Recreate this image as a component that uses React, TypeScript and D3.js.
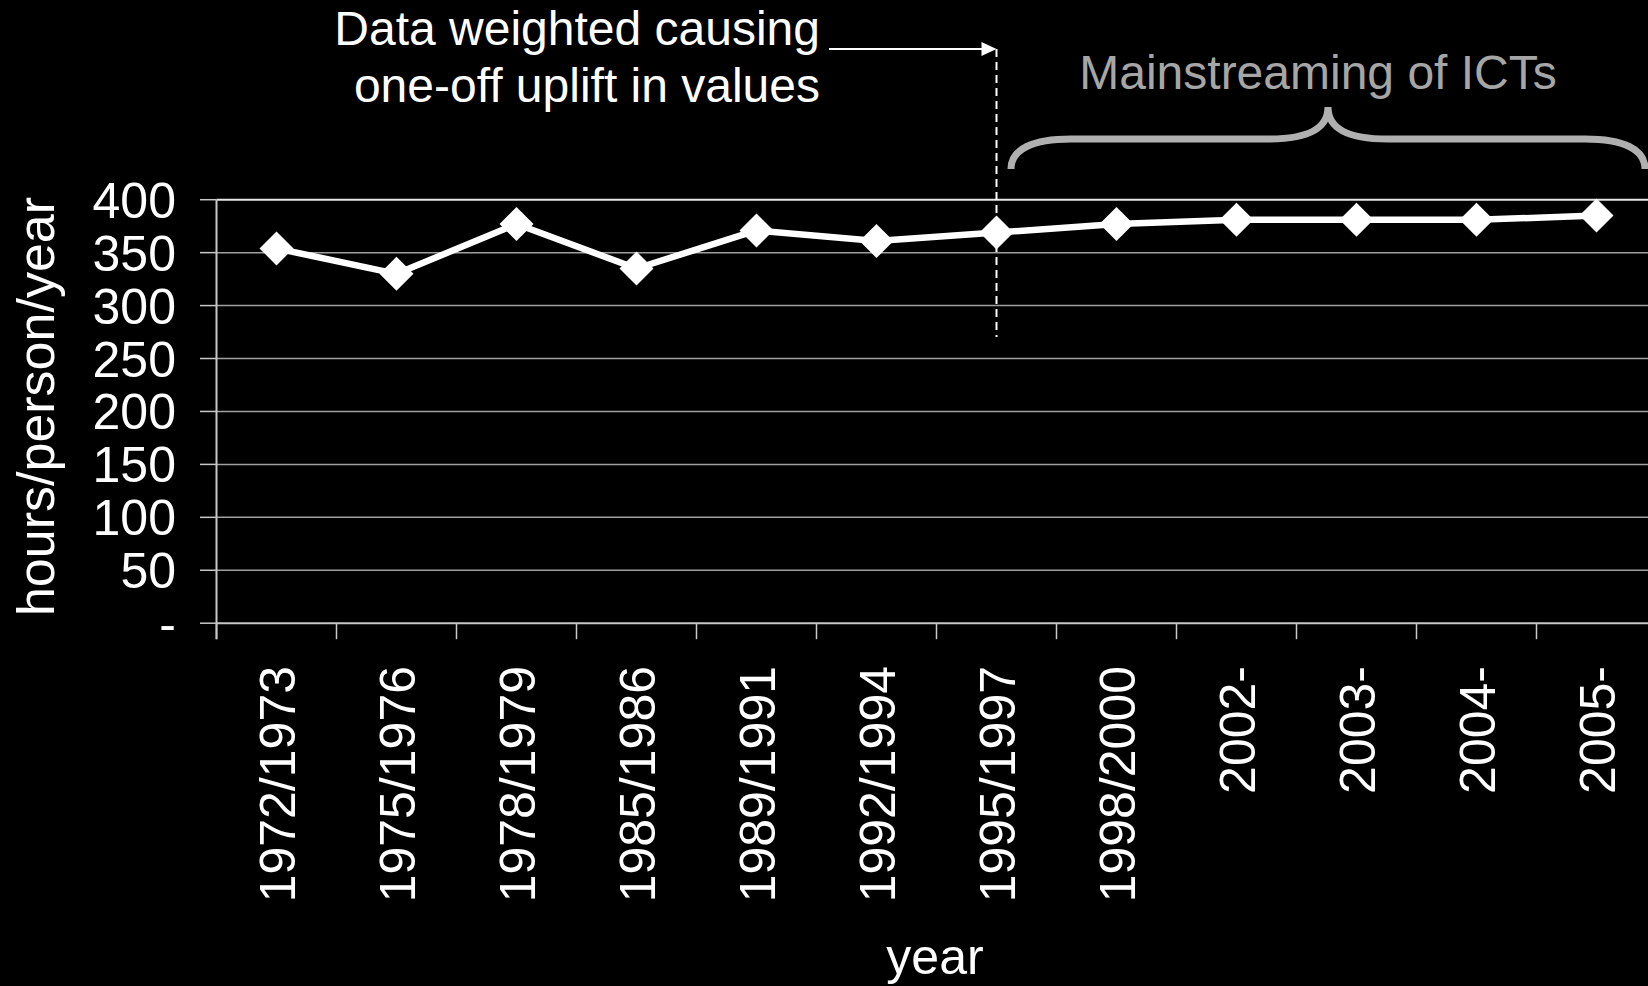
import React from "react";
import * as d3 from "d3";

const categories = [
  "1972/1973", "1975/1976", "1978/1979", "1985/1986", "1989/1991", "1992/1994",
  "1995/1997", "1998/2000", "2002-", "2003-", "2004-", "2005-",
];
const hours = [354, 330, 377, 335, 371, 361, 369, 377, 381, 381, 381, 385];
const yTicks = [0, 50, 100, 150, 200, 250, 300, 350, 400];
const yTickLabels = ["-", "50", "100", "150", "200", "250", "300", "350", "400"];
const yTitle = "hours/person/year";
const xTitle = "year";
const noteLines = ["Data weighted causing", "one-off uplift in values"];
const noteCategory = "1995/1997";
const braceLabel = "Mainstreaming of ICTs";

const W = 1648;
const H = 986;
const FONT = "'Liberation Sans', Arial, Helvetica, sans-serif";

export default function App() {
  const x = d3.scaleBand<string>().domain(categories).range([216.5, 1656.5]);
  const y = d3.scaleLinear().domain([0, 400]).range([623.2, 199.7]);
  const cx = (c: string) => (x(c) as number) + x.bandwidth() / 2;

  const pts = categories.map((c, i) => [cx(c), y(hours[i])] as [number, number]);
  const linePath = d3.line()(pts) || "";

  const boundaries = d3.range(categories.length + 1).map((k) => x.range()[0] + k * x.step());
  const x0 = x.range()[0];
  const x1 = W + 20;
  const axisY = y(0);

  const noteX = cx(noteCategory);

  // curly brace
  const bL = 1011, bR = 1645, bMid = (bL + bR) / 2, bBot = 169, bH = 139, bTop = 107;
  const brace = `M ${bL} ${bBot} C ${bL} ${bH + 10} ${bL + 22} ${bH} ${bL + 60} ${bH}
    L ${bMid - 60} ${bH} C ${bMid - 20} ${bH} ${bMid} ${bH - 10} ${bMid} ${bTop}
    C ${bMid} ${bH - 10} ${bMid + 20} ${bH} ${bMid + 60} ${bH}
    L ${bR - 60} ${bH} C ${bR - 22} ${bH} ${bR} ${bH + 10} ${bR} ${bBot}`;

  return (
    <svg
      width={W}
      height={H}
      style={{ position: "fixed", left: 0, top: 0, background: "#000" }}
      fontFamily={FONT}
    >
      <rect x={0} y={0} width={W} height={H} fill="#000" />

      {/* gridlines */}
      {yTicks.slice(1).map((t) => (
        <line
          key={"g" + t}
          x1={x0}
          x2={x1}
          y1={y(t)}
          y2={y(t)}
          stroke={t === 400 ? "#e6e6e6" : "#a0a0a0"}
          strokeWidth={t === 400 ? 2 : 1.5}
        />
      ))}

      {/* y axis */}
      <line x1={x0} x2={x0} y1={y(400)} y2={axisY + 16} stroke="#c8c8c8" strokeWidth={2} />
      {yTicks.map((t) => (
        <line key={"yt" + t} x1={x0 - 16.5} x2={x0} y1={y(t)} y2={y(t)} stroke="#c8c8c8" strokeWidth={1.5} />
      ))}
      {yTicks.map((t, i) => (
        <text
          key={"yl" + t}
          x={176}
          y={y(t)}
          dy="0.36em"
          textAnchor="end"
          fontSize={50}
          fill="#fff"
        >
          {yTickLabels[i]}
        </text>
      ))}
      <text
        transform={`translate(54,406.5) rotate(-90)`}
        textAnchor="middle"
        fontSize={52}
        fill="#fff"
      >
        {yTitle}
      </text>

      {/* x axis */}
      <line x1={x0} x2={x1} y1={axisY} y2={axisY} stroke="#c8c8c8" strokeWidth={2} />
      {boundaries.map((b, i) => (
        <line key={"xt" + i} x1={b} x2={b} y1={axisY} y2={axisY + 16} stroke="#c8c8c8" strokeWidth={1.5} />
      ))}
      {categories.map((c) => (
        <text
          key={"xl" + c}
          transform={`translate(${cx(c)},666) rotate(-90)`}
          dy="0.36em"
          textAnchor="end"
          fontSize={50}
          fill="#fff"
        >
          {c}
        </text>
      ))}
      <text x={935} y={974} textAnchor="middle" fontSize={50} fill="#fff">
        {xTitle}
      </text>

      {/* annotation: dashed line and arrow */}
      <line
        x1={noteX}
        x2={noteX}
        y1={49}
        y2={337}
        stroke="#fff"
        strokeWidth={2}
        strokeDasharray="8,5"
      />
      <line x1={829} x2={noteX - 14} y1={49} y2={49} stroke="#fff" strokeWidth={2} />
      <path d={`M ${noteX - 15} ${42} L ${noteX} ${49} L ${noteX - 15} ${56} Z`} fill="#fff" />
      {noteLines.map((t, i) => (
        <text key={"n" + i} x={820} y={45 + i * 57} textAnchor="end" fontSize={48} fill="#fff">
          {t}
        </text>
      ))}

      {/* brace */}
      <path d={brace} fill="none" stroke="#b0b0b0" strokeWidth={7} strokeLinecap="butt" />
      <text x={1318} y={89} textAnchor="middle" fontSize={48} fill="#a6a6a6">
        {braceLabel}
      </text>

      {/* series */}
      <path d={linePath} fill="none" stroke="#fff" strokeWidth={6.5} strokeLinejoin="round" />
      {pts.map(([px, py], i) => (
        <path
          key={"m" + i}
          d={`M ${px} ${py - 17} L ${px + 17} ${py} L ${px} ${py + 17} L ${px - 17} ${py} Z`}
          fill="#fff"
        />
      ))}
    </svg>
  );
}
